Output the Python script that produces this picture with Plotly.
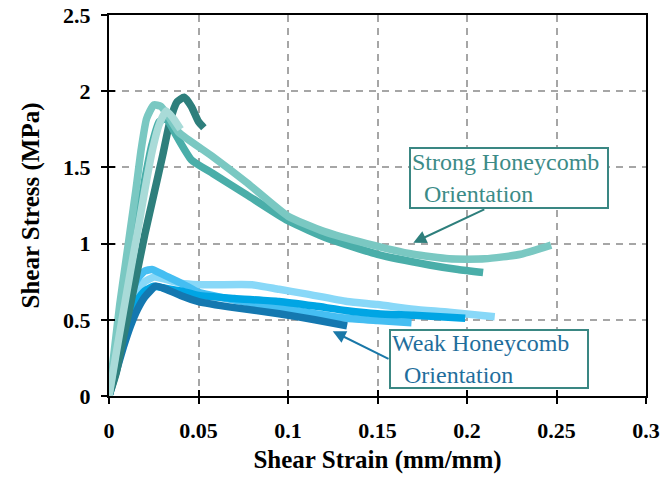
import plotly.graph_objects as go

# ---- data ----
strong_dark_x = [0, 0.004, 0.008, 0.012, 0.016, 0.02, 0.025, 0.03, 0.034, 0.038, 0.042, 0.046, 0.05, 0.053]
strong_dark_y = [0, 0.15, 0.38, 0.6, 0.83, 1.06, 1.32, 1.58, 1.8, 1.93, 1.96, 1.9, 1.8, 1.76]

strong_mid_x = [0, 0.004, 0.008, 0.012, 0.016, 0.02, 0.024, 0.028, 0.032, 0.038, 0.046, 0.058, 0.077, 0.1, 0.123, 0.15, 0.179, 0.195, 0.209]
strong_mid_y = [0, 0.3, 0.62, 0.9, 1.15, 1.42, 1.65, 1.8, 1.82, 1.7, 1.55, 1.46, 1.32, 1.15, 1.03, 0.93, 0.86, 0.83, 0.81]

strong_light_x = [0, 0.003, 0.006, 0.009, 0.012, 0.015, 0.018, 0.021, 0.025, 0.029, 0.034, 0.039, 0.058, 0.077, 0.1, 0.12, 0.144, 0.17, 0.19, 0.21, 0.23, 0.247]
strong_light_y = [0, 0.3, 0.6, 0.85, 1.1, 1.35, 1.62, 1.82, 1.91, 1.9, 1.82, 1.73, 1.57, 1.4, 1.18, 1.08, 1.0, 0.93, 0.9, 0.9, 0.93, 0.99]

strong_pale_x = [0, 0.004, 0.008, 0.012, 0.016, 0.02, 0.024, 0.028, 0.032, 0.036, 0.04]
strong_pale_y = [0, 0.28, 0.55, 0.82, 1.08, 1.35, 1.6, 1.78, 1.87, 1.82, 1.75]

weak_light_x = [0, 0.004, 0.008, 0.012, 0.016, 0.02, 0.025, 0.03, 0.04, 0.05, 0.06, 0.08, 0.095, 0.11, 0.133, 0.15, 0.17, 0.19, 0.2155]
weak_light_y = [0, 0.22, 0.42, 0.58, 0.69, 0.75, 0.78, 0.77, 0.74, 0.73, 0.73, 0.73, 0.70, 0.67, 0.62, 0.6, 0.57, 0.55, 0.52]

weak_midlight_x = [0, 0.004, 0.008, 0.012, 0.016, 0.02, 0.024, 0.028, 0.035, 0.042, 0.05, 0.07, 0.095, 0.115, 0.133, 0.15, 0.169]
weak_midlight_y = [0, 0.25, 0.48, 0.66, 0.77, 0.82, 0.83, 0.81, 0.77, 0.73, 0.68, 0.63, 0.58, 0.54, 0.51, 0.495, 0.48]

weak_bright_x = [0, 0.004, 0.008, 0.012, 0.016, 0.02, 0.025, 0.03, 0.04, 0.05, 0.07, 0.095, 0.115, 0.133, 0.15, 0.17, 0.185, 0.199]
weak_bright_y = [0, 0.2, 0.38, 0.53, 0.63, 0.69, 0.72, 0.71, 0.69, 0.66, 0.64, 0.62, 0.59, 0.56, 0.54, 0.53, 0.52, 0.51]

weak_dark_x = [0, 0.004, 0.008, 0.012, 0.016, 0.02, 0.026, 0.03, 0.04, 0.05, 0.07, 0.095, 0.115, 0.133]
weak_dark_y = [0, 0.16, 0.32, 0.46, 0.57, 0.65, 0.72, 0.71, 0.66, 0.62, 0.58, 0.54, 0.5, 0.46]

x_ticks = [0, 0.05, 0.1, 0.15, 0.2, 0.25, 0.3]
x_tick_labels = ["0", "0.05", "0.1", "0.15", "0.2", "0.25", "0.3"]
y_ticks = [0, 0.5, 1, 1.5, 2, 2.5]
y_tick_labels = ["0", "0.5", "1", "1.5", "2", "2.5"]

FONT = "Liberation Serif"
LW = 7.5

series = [
    (weak_light_x, weak_light_y, "#88D8F8"),
    (weak_midlight_x, weak_midlight_y, "#45BEF2"),
    (weak_bright_x, weak_bright_y, "#00A5E4"),
    (weak_dark_x, weak_dark_y, "#1478B0"),
    (strong_dark_x, strong_dark_y, "#2E7F7C"),
    (strong_mid_x, strong_mid_y, "#4AAEA9"),
    (strong_light_x, strong_light_y, "#7AC8C2"),
    (strong_pale_x, strong_pale_y, "#A9DBD8"),
]

fig = go.Figure()
for xs, ys, c in series:
    fig.add_trace(go.Scatter(x=xs, y=ys, mode="lines", line=dict(color=c, width=LW, shape="spline", smoothing=0.5),
                             showlegend=False, hoverinfo="skip"))

axis_common = dict(showline=True, linecolor="black", linewidth=2, mirror=True, automargin=False,
                   ticks="outside", ticklen=6, tickwidth=2, tickcolor="black",
                   showgrid=True, gridcolor="#A6A6A6", gridwidth=2, griddash="7px,6px",
                   zeroline=False,
                   tickfont=dict(family=FONT, size=22, color="black", weight="bold"))

fig.update_layout(
    width=663, height=482,
    margin=dict(l=109, r=17, t=15, b=86),
    plot_bgcolor="white", paper_bgcolor="white",
    xaxis=dict(range=[0, 0.3], tickvals=x_ticks, ticktext=x_tick_labels,
               title=dict(text="Shear Strain (mm/mm)", font=dict(family=FONT, size=25, color="black", weight="bold"), standoff=8),
               ticklabelstandoff=8, **axis_common),
    yaxis=dict(range=[0, 2.5], tickvals=y_ticks, ticktext=y_tick_labels,
               title=dict(text="Shear Stress (MPa)", font=dict(family=FONT, size=25, color="black", weight="bold"), standoff=16),
               ticklabelstandoff=6, **axis_common),
    xaxis2=dict(range=[0, 0.3], tickvals=x_ticks, overlaying="x", anchor="y", showticklabels=False, automargin=False,
                ticks="inside", ticklen=6, tickwidth=2, tickcolor="black", showgrid=False, showline=False, zeroline=False),
    yaxis2=dict(range=[0, 2.5], tickvals=y_ticks, overlaying="y", anchor="x", side="left", showticklabels=False, automargin=False,
                ticks="inside", ticklen=6, tickwidth=2, tickcolor="black", showgrid=False, showline=False, zeroline=False),
)
# invisible trace to keep overlay axes active
fig.add_trace(go.Scatter(x=[0], y=[0], xaxis="x2", yaxis="y2", mode="markers", marker=dict(opacity=0),
                         showlegend=False, hoverinfo="skip"))

box_font = dict(family=FONT, size=24)
# arrows
fig.add_annotation(x=0.170, y=1.006, ax=0.2105, ay=1.229, xref="x", yref="y", axref="x", ayref="y",
                   showarrow=True, arrowhead=2, arrowsize=1.3, arrowwidth=2, arrowcolor="#2E7F7C", text="")
fig.add_annotation(x=0.125, y=0.425, ax=0.157, ay=0.239, xref="x", yref="y", axref="x", ayref="y",
                   showarrow=True, arrowhead=2, arrowsize=1.3, arrowwidth=2, arrowcolor="#1A78A8", text="")
# text boxes
fig.add_annotation(x=0.2234, y=1.4286, xref="x", yref="y", showarrow=False,
                   text="Strong Honeycomb<br>\u00a0\u00a0Orientation", align="left",
                   font=dict(color="#3C8B87", **box_font), bgcolor="white",
                   bordercolor="#3A8783", borderwidth=2, borderpad=1, width=194, height=56)
fig.add_annotation(x=0.2125, y=0.2457, xref="x", yref="y", showarrow=False,
                   text="Weak Honeycomb<br>\u00a0\u00a0Orientation", align="left",
                   font=dict(color="#1F6E9C", **box_font), bgcolor="white",
                   bordercolor="#3A8783", borderwidth=2, borderpad=1, width=194, height=54)

fig.write_html("out.html")
